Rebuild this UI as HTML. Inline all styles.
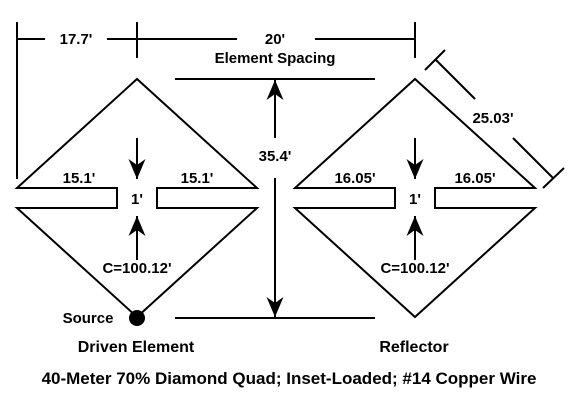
<!DOCTYPE html>
<html><head><style>body{margin:0;background:#fff}svg{display:block}text{font-family:"Liberation Sans",Arial,sans-serif;font-size:15px;font-weight:bold;fill:#000}</style></head><body>
<svg width="580" height="409" viewBox="0 0 580 409" xmlns="http://www.w3.org/2000/svg">
<defs><marker id="a" viewBox="0 0 20 17" refX="20" refY="8.5" markerWidth="20" markerHeight="17" markerUnits="userSpaceOnUse" orient="auto"><path d="M0,0 L20,8.5 L0,17 L6,8.5 Z" fill="#000"/></marker></defs>
<g stroke="#000" stroke-width="2" fill="none">
<path d="M17,188 L137,79 L257,188 L157,188 L157,208 L257,208 L137,317 L17,208 L117,208 L117,188 Z"/>
<path d="M295,188 L415,79 L535,188 L435,188 L435,208 L535,208 L415,317 L295,208 L395,208 L395,188 Z"/>
<line x1="17" y1="22" x2="17" y2="179"/>
<line x1="17" y1="39" x2="45" y2="39"/>
<line x1="107" y1="39" x2="237" y2="39"/>
<line x1="137" y1="22" x2="137" y2="58"/>
<line x1="315" y1="39" x2="415" y2="39"/>
<line x1="415" y1="22" x2="415" y2="58"/>
<line x1="175" y1="79" x2="375" y2="79"/>
<line x1="175" y1="318" x2="375" y2="318"/>
<line x1="275" y1="138" x2="275" y2="80" marker-end="url(#a)"/>
<line x1="275" y1="178" x2="275" y2="317" marker-end="url(#a)"/>
<line x1="137" y1="138" x2="137" y2="179" marker-end="url(#a)"/>
<line x1="137" y1="260" x2="137" y2="216" marker-end="url(#a)"/>
<line x1="415" y1="138" x2="415" y2="179" marker-end="url(#a)"/>
<line x1="415" y1="260" x2="415" y2="216" marker-end="url(#a)"/>
<line x1="435" y1="59" x2="475" y2="99"/>
<line x1="513" y1="138" x2="553" y2="178"/>
<line x1="425" y1="70" x2="445" y2="50"/>
<line x1="543" y1="188" x2="564" y2="168"/>
</g>
<circle cx="137" cy="318" r="8" fill="#000"/>
<g text-anchor="middle">
<text x="76" y="44">17.7'</text>
<text x="275" y="44">20'</text>
<text x="275" y="63">Element Spacing</text>
<text x="275" y="161">35.4'</text>
<text x="493" y="123">25.03'</text>
<text x="79" y="183">15.1'</text>
<text x="197" y="183">15.1'</text>
<text x="137" y="204">1'</text>
<text x="137" y="273">C=100.12'</text>
<text x="355" y="183">16.05'</text>
<text x="475" y="183">16.05'</text>
<text x="415" y="204">1'</text>
<text x="415" y="273">C=100.12'</text>
<text x="88" y="323">Source</text>
<text x="136" y="352" style="font-size:16px">Driven Element</text>
<text x="414" y="352" style="font-size:16px">Reflector</text>
<text x="289" y="384" style="font-size:17px">40-Meter 70% Diamond Quad; Inset-Loaded; #14 Copper Wire</text>
</g>
</svg>
</body></html>
